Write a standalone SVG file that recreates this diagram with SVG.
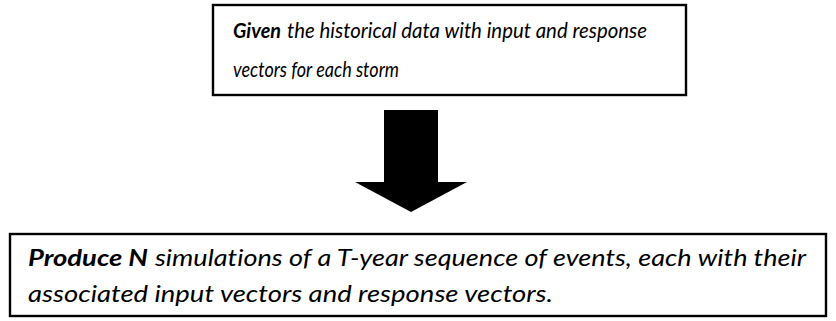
<svg xmlns="http://www.w3.org/2000/svg" width="836" height="321" viewBox="0 0 836 321">
  <style>
    .box { fill: #ffffff; stroke: #000000; stroke-width: 2.4; }
    .txt { font-family: Lato, "Open Sans", "Liberation Sans", sans-serif; font-style: italic; font-size: 23px; fill: #000000; font-variant-ligatures: none; }
    .sm { font-size: 21px; }
    .b { font-weight: bold; }
    .arrow { fill: #000000; }
  </style>
  <rect width="836" height="321" fill="#ffffff"/>

  <!-- input step -->
  <g id="given">
    <rect class="box" x="213" y="5" width="473" height="90"/>
    <text class="txt sm b" x="233" y="38" textLength="48" lengthAdjust="spacingAndGlyphs">Given</text>
    <text class="txt sm" x="287" y="38" textLength="360" lengthAdjust="spacingAndGlyphs">the historical data with input and response</text>
    <text class="txt sm" x="233" y="77" textLength="166" lengthAdjust="spacingAndGlyphs">vectors for each storm</text>
  </g>

  <!-- flow arrow -->
  <g id="connectors">
    <path class="arrow" d="M384 110 H438 V182 H467 L411 212 L355 182 H384 Z"/>
  </g>

  <!-- output step -->
  <g id="produce">
    <rect class="box" x="10" y="234" width="816" height="82"/>
    <text class="txt b" x="28" y="266" textLength="120" lengthAdjust="spacingAndGlyphs">Produce N</text>
    <text class="txt" x="155" y="266" textLength="651" lengthAdjust="spacingAndGlyphs">simulations of a T-year sequence of events, each with their</text>
    <text class="txt" x="28" y="302" textLength="525" lengthAdjust="spacingAndGlyphs">associated input vectors and response vectors.</text>
  </g>
</svg>
